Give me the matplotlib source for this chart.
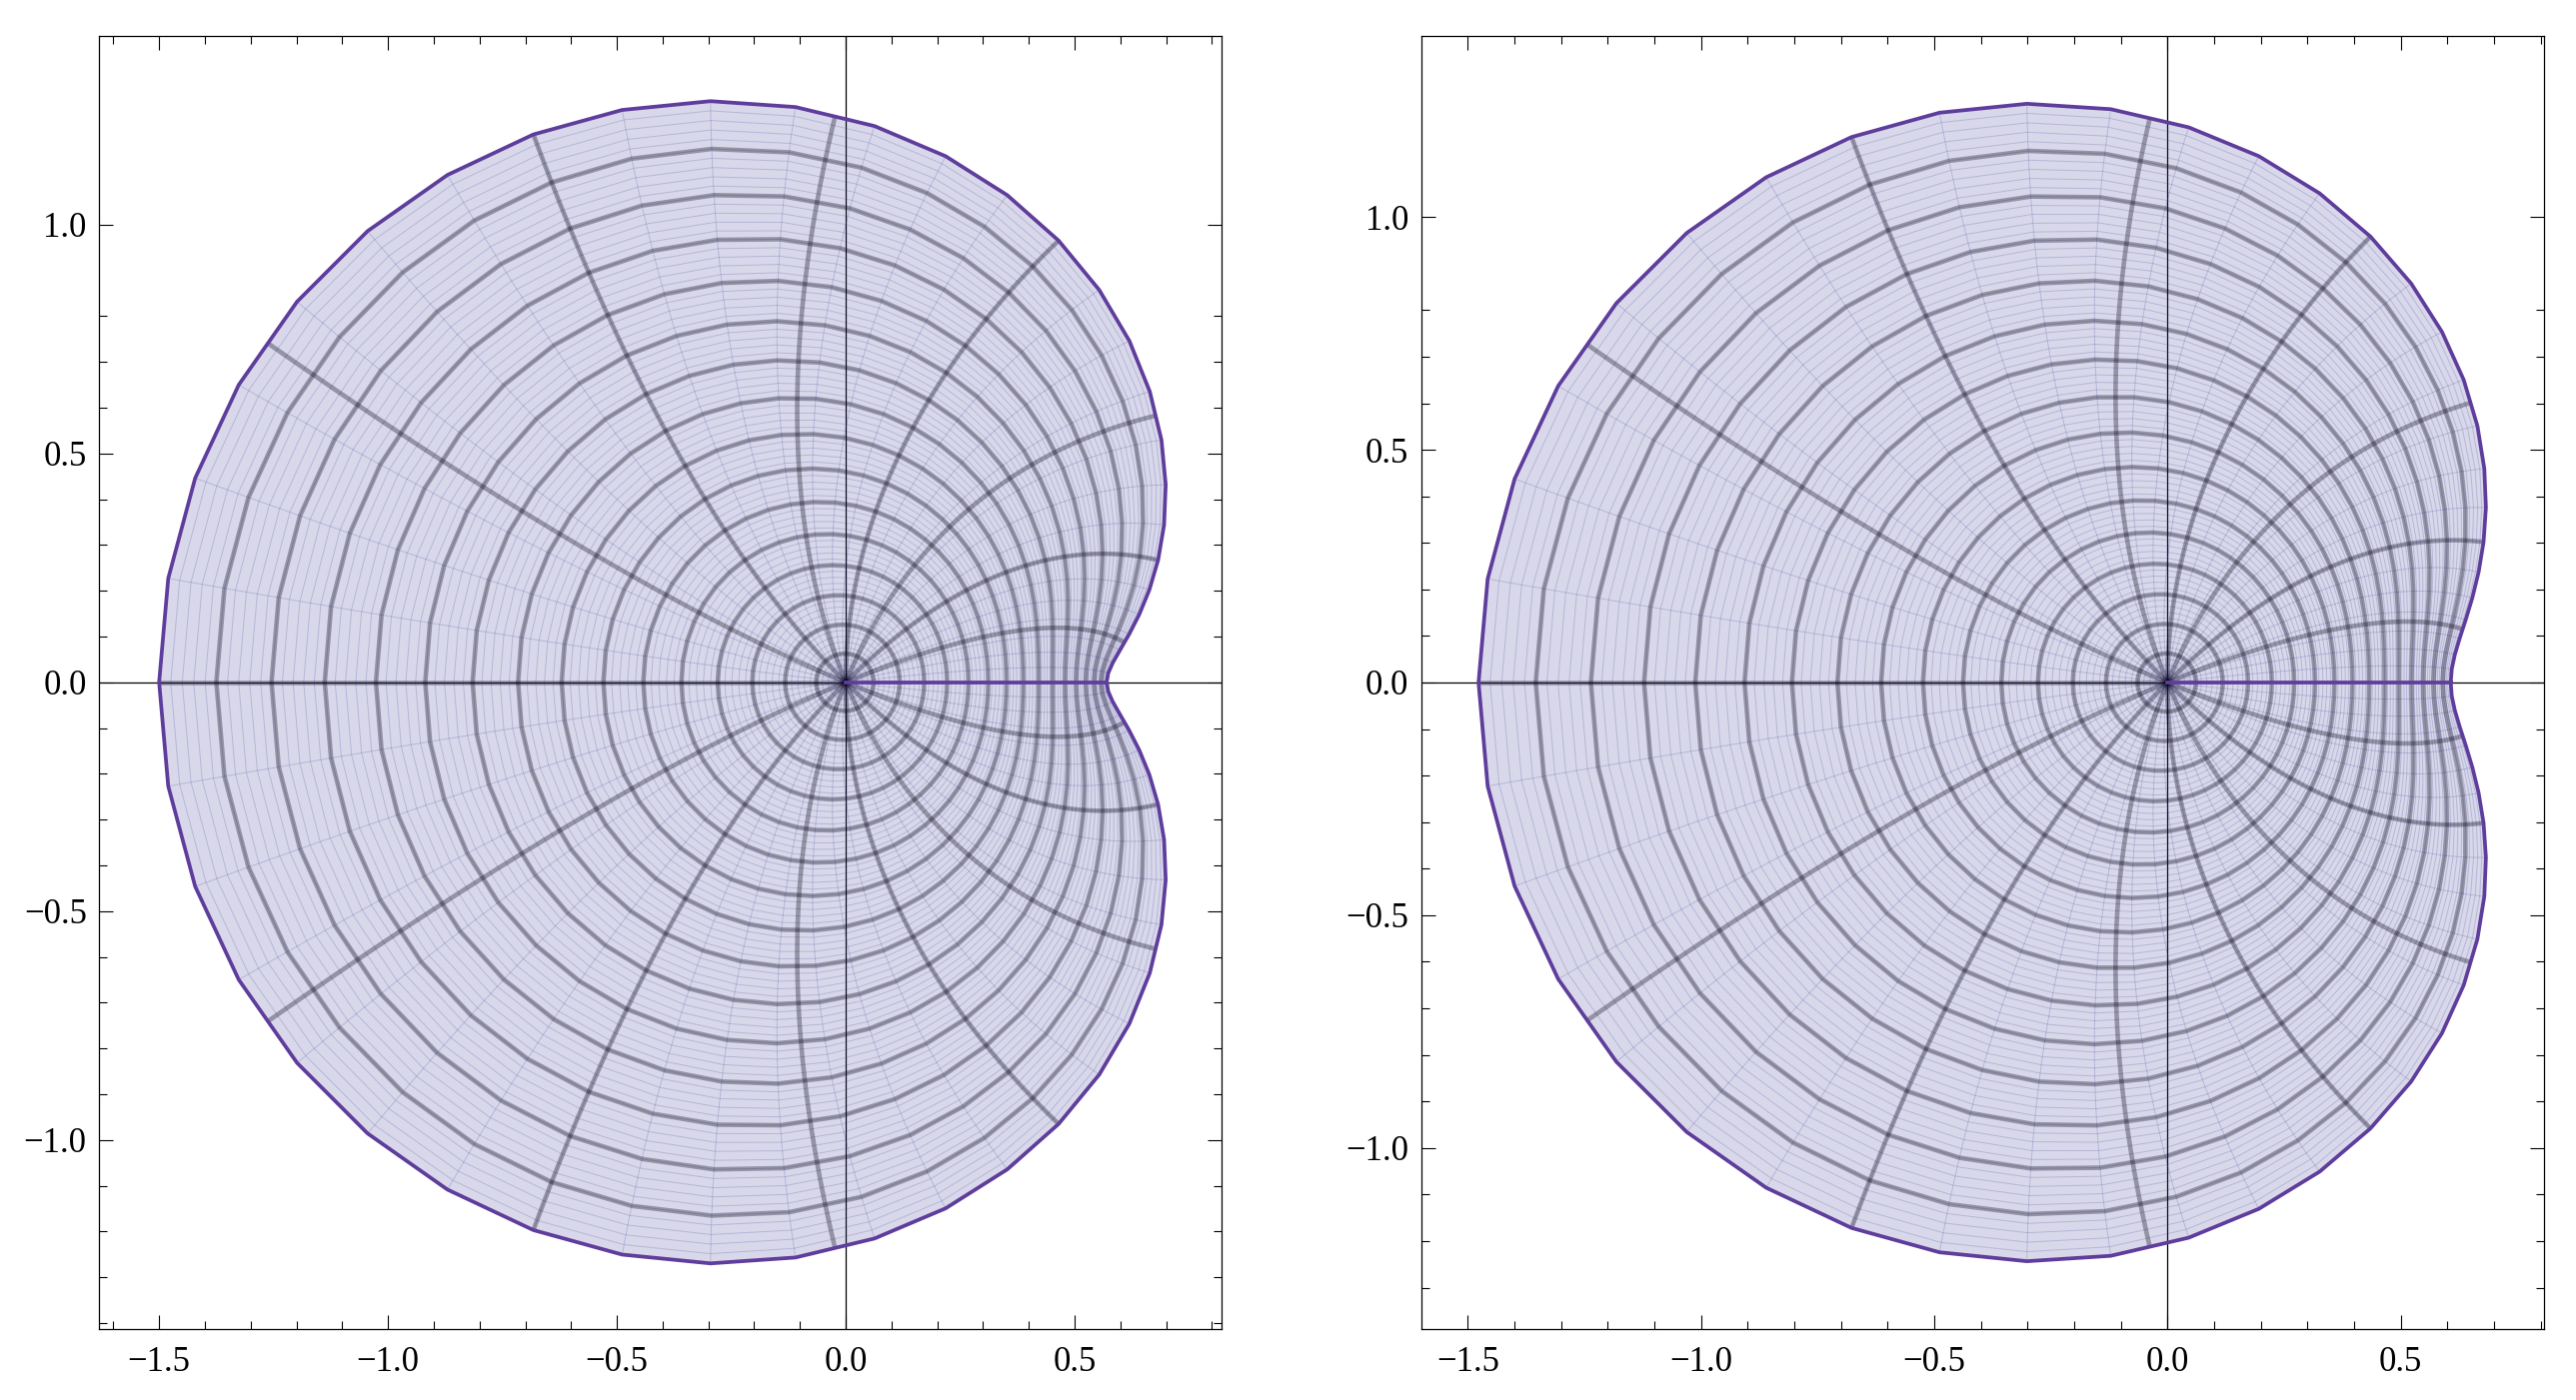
#Two conformal-map mesh plots (image of the unit disk), Mathematica style
import numpy as np
import matplotlib.pyplot as plt
from matplotlib.collections import LineCollection
from matplotlib.patches import Polygon

plt.rcParams['font.family'] = ['Liberation Serif', 'DejaVu Serif']

#coefficients of z, z^2, z^3
left_coeffs = [1.0, -0.465, 0.035]
right_coeffs = [1.0, -0.435, 0.042]

#plot ranges of the two frames
left_xlim = (-1.631, 0.821)
left_ylim = (-1.413, 1.412)
right_xlim = (-1.600, 0.806)
right_ylim = (-1.389, 1.389)

#ticks
x_ticks = [-1.5, -1.0, -0.5, 0.0, 0.5]
x_labels = ['\u22121.5', '\u22121.0', '\u22120.5', '0.0', '0.5']
y_ticks = [-1.0, -0.5, 0.0, 0.5, 1.0]
y_labels = ['\u22121.0', '\u22120.5', '0.0', '0.5', '1.0']
minor_ticks = np.round(np.arange(-1.6, 0.85, 0.1), 2)

#mesh: 16 parts in r and theta (thick lines), sampling grid (thin lines)
n_mesh = 16
n_r = 80
n_t = 56

fill_rgb = (0.24, 0.24, 0.6)
purple = '#5f3d9c'


def fmap(coeffs, z):
    w = np.zeros_like(z)
    for k, c in enumerate(coeffs):
        w = w + c * z ** (k + 1)
    return w


def xy(w):
    return np.column_stack([w.real, w.imag])


def draw(ax, coeffs, xlim, ylim):
    r = np.linspace(0, 1, n_r + 1)
    t = np.linspace(0, 2 * np.pi, n_t + 1)
    R, T = np.meshgrid(r, t, indexing='ij')
    W = fmap(coeffs, R * np.exp(1j * T))

    #axes through the origin sit under the translucent region
    ax.axhline(0, color='black', lw=0.9, zorder=1)
    ax.axvline(0, color='black', lw=0.9, zorder=1)

    #region fill
    bnd = W[-1]
    ax.add_patch(Polygon(xy(bnd), closed=True, fc=fill_rgb, alpha=0.2,
                         ec='none', zorder=2))

    #thin sampling grid
    thin = [xy(W[i]) for i in range(1, n_r)]
    thin += [xy(W[:, j]) for j in range(1, n_t)]
    ax.add_collection(LineCollection(thin, colors=[fill_rgb + (0.22,)],
                                     linewidths=0.7, zorder=3))

    #thick mesh circles and rays
    step = n_r // n_mesh
    thick = [xy(W[i * step]) for i in range(1, n_mesh)]
    for k in range(1, n_mesh):
        pos = k / n_mesh * n_t
        j = int(np.floor(pos))
        f = pos - j
        line = W[:, j] * (1 - f) + W[:, j + 1] * f
        thick.append(xy(line))
    ax.add_collection(LineCollection(thick, colors=[(0.02, 0.0, 0.08, 0.32)],
                                     linewidths=3.3, zorder=4))

    #boundary (outer circle and the theta = 0 edge)
    ax.plot(bnd.real, bnd.imag, color=purple, lw=2.7, zorder=5,
            solid_joinstyle='round')
    ax.plot(W[:, 0].real, W[:, 0].imag, color=purple, lw=2.7, zorder=5)

    ax.set_xlim(xlim)
    ax.set_ylim(ylim)
    ax.set_xticks(x_ticks)
    ax.set_xticklabels(x_labels)
    ax.set_yticks(y_ticks)
    ax.set_yticklabels(y_labels)
    ax.set_xticks([v for v in minor_ticks if xlim[0] < v < xlim[1]], minor=True)
    ax.set_yticks([v for v in minor_ticks if ylim[0] < v < ylim[1]], minor=True)
    ax.tick_params(which='both', direction='in', top=True, right=True,
                   width=0.8, colors='black')
    ax.tick_params(which='major', length=10, labelsize=25)
    ax.tick_params(which='minor', length=5.5)
    ax.tick_params(axis='x', which='major', pad=12)
    ax.tick_params(axis='y', which='major', pad=9)
    for s in ax.spines.values():
        s.set_linewidth(0.9)
        s.set_color('black')


fig = plt.figure(figsize=(25.77, 14.01), dpi=100)
ax1 = fig.add_axes([0.0385, 0.0507, 0.4357, 0.9236])
ax2 = fig.add_axes([0.5517, 0.0507, 0.4357, 0.9236])
draw(ax1, left_coeffs, left_xlim, left_ylim)
draw(ax2, right_coeffs, right_xlim, right_ylim)

fig.savefig('out.png', dpi=100)
